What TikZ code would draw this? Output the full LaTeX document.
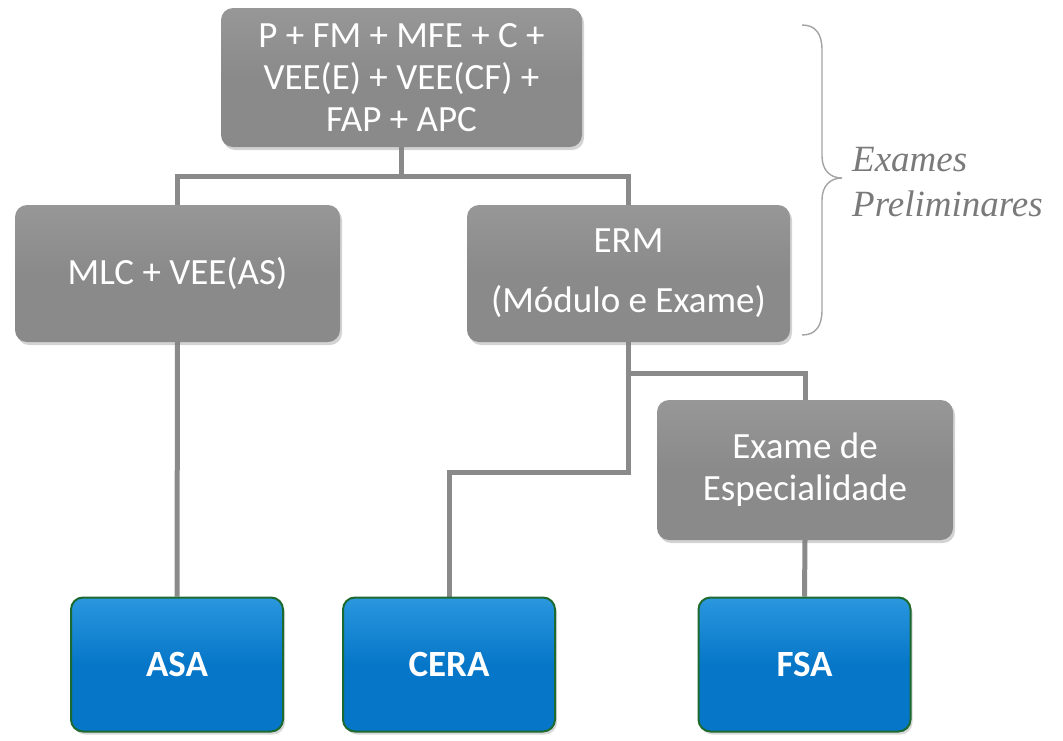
\documentclass[tikz,border=0pt]{standalone}
\usepackage{fontspec}
\setmainfont{Carlito}
\newfontfamily\notefont{Liberation Serif}
\usetikzlibrary{shadows,backgrounds}
\definecolor{boxgray}{HTML}{8A8A8A}
\definecolor{boxgraytop}{HTML}{979797}
\definecolor{linkgray}{HTML}{8A8A8A}
\definecolor{bluefill}{HTML}{0676C8}
\definecolor{bluetop}{HTML}{2A97DE}
\definecolor{blueedge}{HTML}{1D6A30}
\definecolor{bracegray}{HTML}{A3A3A3}
\definecolor{notegray}{HTML}{7A7A7A}
\tikzset{
  graybox/.style={rounded corners=12pt, draw=none, top color=boxgraytop, bottom color=boxgray,
    middle color=boxgray, text=white, align=center, inner sep=0pt,
    font=\fontsize{37}{42}\selectfont,
    drop shadow={opacity=0.35, shadow xshift=2pt, shadow yshift=-3pt}},
  bluebox/.style={rounded corners=12pt, draw=blueedge, line width=2pt, top color=bluetop,
    bottom color=bluefill, middle color=bluefill, text=white, align=center, inner sep=0pt,
    minimum width=212pt, minimum height=134pt,
    font=\fontsize{37}{42}\selectfont\bfseries,
    drop shadow={opacity=0.3, shadow xshift=2pt, shadow yshift=-3pt}},
  link/.style={draw=linkgray, line width=5pt},
}
\begin{document}
\begin{tikzpicture}[x=1pt, y=-1pt]
\useasboundingbox (0,0) rectangle (1063,740);

% exam boxes
\node[graybox, minimum width=361pt, minimum height=139pt] (top) at (401.5,77.5)
  {P + FM + MFE + C +\\VEE(E) + VEE(CF) +\\FAP + APC};
\node[graybox, minimum width=325pt, minimum height=137pt] (mlc) at (177.5,273.5)
  {MLC + VEE(AS)};
\node[graybox, minimum width=323pt, minimum height=137pt] (erm) at (628.5,273.5)
  {ERM\\[18pt](Módulo e Exame)};
\node[graybox, minimum width=296pt, minimum height=140pt] (esp) at (805,470)
  {Exame de\\Especialidade};

% designations
\node[bluebox] (asa) at (177,664.5) {ASA};
\node[bluebox] (cera) at (449,664.5) {CERA};
\node[bluebox] (fsa) at (804.5,664.5) {FSA};

% junction points of the connectors
\coordinate (j1) at (401.5,176);
\coordinate (j2) at (628.5,373);
\coordinate (j3) at (628.5,472);

\begin{pgfonlayer}{background}
  \draw[link] (top.south) -- (j1);
  \draw[link] (mlc.north) |- (j1) -| (erm.north);
  \draw[link] (mlc.south) -- (asa.north);
  \draw[link] (erm.south) -- (j3) -| (cera.north);
  \draw[link] (j2) -| (esp.north);
  \draw[link] (esp.south) -- (fsa.north);
\end{pgfonlayer}

% brace grouping the preliminary exams
\draw[bracegray, line width=1.4pt]
  (802,25) .. controls (815,25) and (822,33) .. (822,50) -- (822,156)
  .. controls (822,170) and (830,178) .. (842,178)
  .. controls (830,178) and (822,186) .. (822,200) -- (822,310)
  .. controls (822,327) and (815,335) .. (802,335);
\node[anchor=west, align=left, inner sep=0pt, text=notegray,
  font=\notefont\itshape\fontsize{37}{45}\selectfont] (note) at (852,182)
  {Exames\\Preliminares};
\end{tikzpicture}
\end{document}
